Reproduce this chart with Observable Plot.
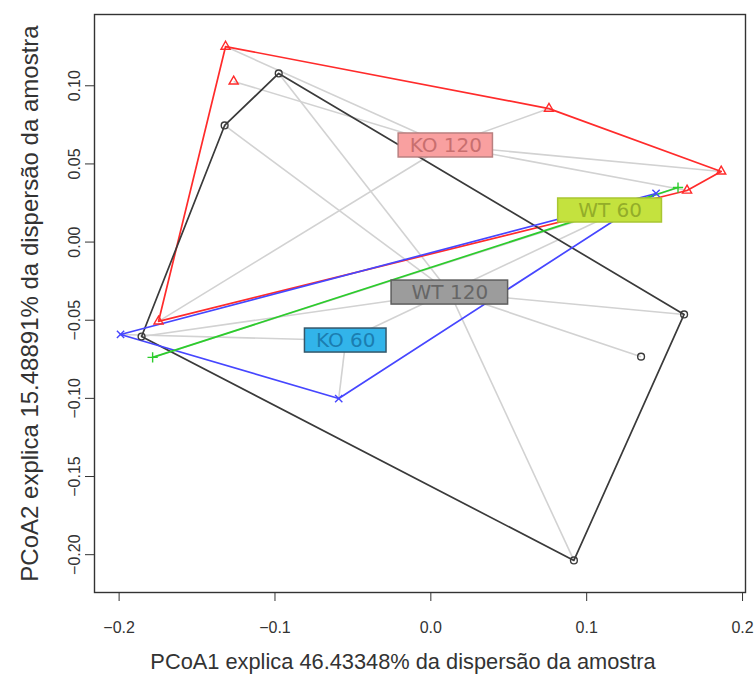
<!DOCTYPE html>
<html><head><meta charset="utf-8">
<script src="https://cdn.jsdelivr.net/npm/d3@7"></script>
<script src="https://cdn.jsdelivr.net/npm/@observablehq/plot@0.6"></script>
<style>body{margin:0;background:#fff}</style>
</head><body><div id="chart"></div>
<script>
// ---- data ----
const groups = ["KO 120", "WT 120", "KO 60", "WT 60"];
const ko120X = [-0.1317, -0.1265, 0.0758, 0.1863, 0.1644, -0.1747];
const ko120Y = [0.1251, 0.1028, 0.0854, 0.0452, 0.0330, -0.0507];
const wt120X = [-0.0976, -0.1323, -0.1856, 0.1625, 0.1349, 0.0918];
const wt120Y = [0.1079, 0.0746, -0.0604, -0.0463, -0.0733, -0.2037];
const ko60X = [-0.1991, -0.0591, 0.1445];
const ko60Y = [-0.0591, -0.1001, 0.0311];
const wt60X = [-0.1785, 0.1586];
const wt60Y = [-0.0738, 0.0349];
const centroidX = [0.0096, 0.0122, -0.0546, 0.1150];
const centroidY = [0.0618, -0.0323, -0.0630, 0.0202];
const xTicks = [-0.2, -0.1, 0, 0.1, 0.2];
const xTickLabels = ["\u22120.2", "\u22120.1", "0.0", "0.1", "0.2"];
const yTicks = [-0.20, -0.15, -0.10, -0.05, 0, 0.05, 0.10];
const yTickLabels = ["\u22120.20", "\u22120.15", "\u22120.10", "\u22120.05", "0.00", "0.05", "0.10"];
const xTitle = "PCoA1 explica 46.43348% da dispersão da amostra";
const yTitle = "PCoA2 explica 15.48891% da dispersão da amostra";

// ---- styles ----
const hullColor = ["#ff2b2b", "#3a3a3a", "#4646ff", "#2ccc2c"];
const symbols = ["triangle", "circle", "times", "plus"];
const labelFill = ["#f9a0a0", "#9c9c9c", "#32b4ea", "#c4e23e"];
const labelText = ["#c86f6f", "#666666", "#1b7db0", "#93ad29"];
const labelBorder = ["#b98080", "#5e5e5e", "#35576a", "#a9c632"];
const labelPad = [22, 40, 22, 40];

const W = 756, H = 682, mL = 94, mR = 11, mT = 14, mB = 90;
const xDomain = [-0.2158, 0.2019], yDomain = [-0.2242, 0.1456];
const kx = (W - mL - mR) / (xDomain[1] - xDomain[0]);
const ky = (H - mT - mB) / (yDomain[1] - yDomain[0]);

const xs = [ko120X, wt120X, ko60X, wt60X];
const ys = [ko120Y, wt120Y, ko60Y, wt60Y];

const points = [];
groups.forEach((g, i) => xs[i].forEach((x, j) => points.push({group: g, gi: i, x, y: ys[i][j], cx: centroidX[i], cy: centroidY[i]})));

function hullRows(i) {
  const pts = xs[i].map((x, j) => [x, ys[i][j]]);
  const h = pts.length >= 3 ? d3.polygonHull(pts) : pts;
  const closed = h.concat([h[0]]);
  return closed.map(([x, y]) => ({x, y}));
}

// label boxes: measure the text, convert box size to data units
const ctx = document.createElement("canvas").getContext("2d");
ctx.font = "20px 'DejaVu Sans'";
const labels = groups.map((g, i) => {
  const w = ctx.measureText(g).width + labelPad[i], h = 24;
  return {text: g, gi: i, x: centroidX[i], y: centroidY[i],
    x1: centroidX[i] - w / 2 / kx, x2: centroidX[i] + w / 2 / kx,
    y1: centroidY[i] - h / 2 / ky, y2: centroidY[i] + h / 2 / ky};
});

const marks = [
  Plot.link(points, {x1: "cx", y1: "cy", x2: "x", y2: "y", stroke: "#d2d2d2", strokeWidth: 1.6}),
  ...groups.map((g, i) => Plot.line(hullRows(i), {x: "x", y: "y", stroke: hullColor[i], strokeWidth: 1.7})),
  ...groups.map((g, i) => Plot.dot(points.filter(p => p.gi === i), {x: "x", y: "y", symbol: symbols[i], r: 3.4, stroke: hullColor[i], strokeWidth: 1.4})),
  Plot.rect(labels, {x1: "x1", x2: "x2", y1: "y1", y2: "y2", fill: d => labelFill[d.gi], stroke: d => labelBorder[d.gi], strokeWidth: 1.5}),
  Plot.text(labels, {x: "x", y: "y", text: "text", fill: d => labelText[d.gi], fontSize: 20, fontFamily: "DejaVu Sans"}),
  Plot.frame({stroke: "#333", strokeWidth: 1.4}),
  Plot.axisX({ticks: xTicks, tickFormat: d => xTickLabels[xTicks.indexOf(d)], tickSize: 9, tickPadding: 20, fontSize: 16, label: null, stroke: "#333"}),
  Plot.axisY({ticks: yTicks, tickFormat: d => yTickLabels[yTicks.indexOf(d)], tickSize: 9, tickPadding: 6, tickRotate: -90, fontSize: 16, label: null, stroke: "#333"}),
  Plot.text([xTitle], {frameAnchor: "bottom", dx: -17, dy: 76, fontSize: 21.8, fill: "#333"}),
  Plot.text([yTitle], {frameAnchor: "left", textAnchor: "middle", dx: -64, dy: 0, rotate: -90, fontSize: 24, fill: "#333"})
];

const chart = Plot.plot({
  width: W, height: H,
  marginLeft: mL, marginRight: mR, marginTop: mT, marginBottom: mB,
  x: {domain: xDomain},
  y: {domain: yDomain},
  style: {fontFamily: "'Liberation Sans', Arial, sans-serif", color: "#333", background: "#fff"},
  marks
});
document.getElementById("chart").append(chart);
</script>
</body></html>
